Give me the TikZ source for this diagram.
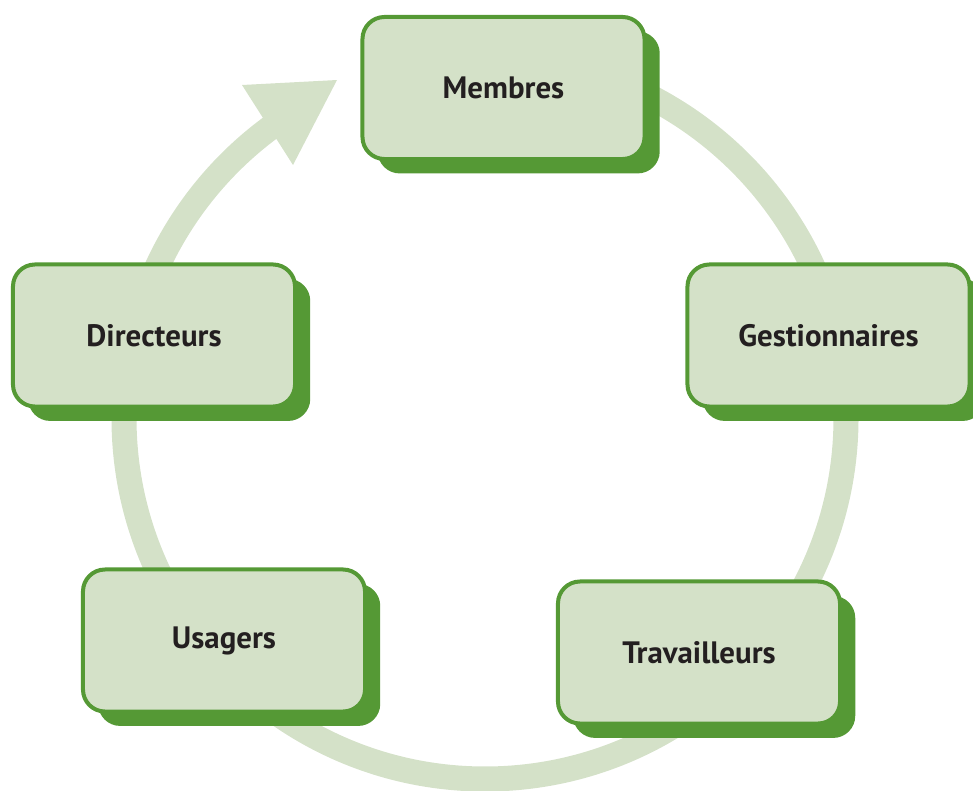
\documentclass[tikz,border=0pt]{standalone}
\usepackage{fontspec}
\setmainfont{PT Sans}
\usetikzlibrary{shadows}
\definecolor{leaf}{HTML}{D4E1C8}
\definecolor{moss}{HTML}{559935}
\definecolor{ink}{HTML}{231F20}
\tikzstyle{stage}=[rectangle,rounded corners=0.55cm,draw=moss,line width=2.85pt,fill=leaf,
  minimum width=7.05cm,minimum height=3.55cm,text=ink,
  font=\bfseries\fontsize{22}{26}\selectfont,
  drop shadow={shadow xshift=0.38cm,shadow yshift=-0.36cm,fill=moss,opacity=1}]
\tikzstyle{ring}=[draw=leaf,line width=17.8pt]

\begin{document}
\begin{tikzpicture}[x=0.025cm,y=-0.025cm]
			\useasboundingbox (0,0) rectangle (973,790);
			% First the ring with its arrowhead
			\coordinate (hub) at (485,418);
			\draw[ring] (hub) ++(-90:361) arc[start angle=-90,end angle=234,radius=361] coordinate (tail);
			\fill[leaf] (242,85) -- (337,80) -- (293,165) -- cycle;

			% Then the stages on top of it
			\foreach \pos/\name/\label in {{(503.5,88)/membres/Membres}, {(828.5,335.5)/gestion/Gestionnaires},
									{(699,652.5)/travail/Travailleurs}, {(224,640.5)/usagers/Usagers},
									{(154,335.5)/direct/Directeurs}}
			\node[stage] (\name) at \pos {\label};
		\end{tikzpicture}
\end{document}
